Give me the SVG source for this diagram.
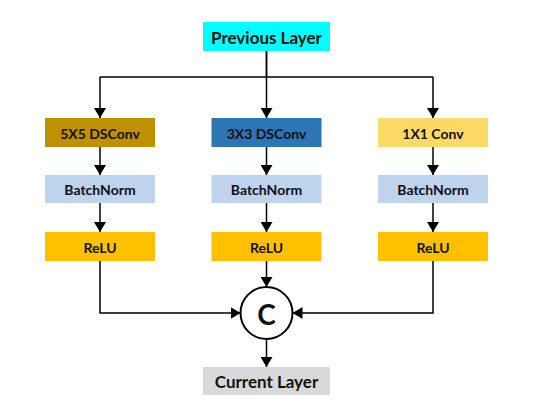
<svg xmlns="http://www.w3.org/2000/svg" width="552" height="409" viewBox="0 0 552 409">
<defs>
<marker id="ah" viewBox="0 0 10 12" refX="10" refY="6" markerWidth="10" markerHeight="12" markerUnits="userSpaceOnUse" orient="auto">
<path d="M0,0 L10,6 L0,12 Z" fill="#000"/>
</marker>
</defs>
<style>
.lbl{font-family:Lato,"Open Sans","Liberation Sans",sans-serif;font-weight:bold;fill:#111;text-anchor:middle;dominant-baseline:central}
.s{font-size:14px}
.b{font-size:17px}
.ln{fill:none;stroke:#000;stroke-width:1.5}
.ar{fill:none;stroke:#000;stroke-width:1.5;marker-end:url(#ah)}
</style>
<rect width="552" height="409" fill="#fff"/>
<g id="connectors">
<path class="ln" d="M266.5,51 V77 M100,77 H433"/>
<path class="ar" d="M100,77 V118"/>
<path class="ar" d="M266.5,51 V118"/>
<path class="ar" d="M433,77 V118"/>
<path class="ar" d="M100,147 V175"/>
<path class="ar" d="M266.5,147 V175"/>
<path class="ar" d="M433,147 V175"/>
<path class="ar" d="M100,203 V232"/>
<path class="ar" d="M266.5,203 V232"/>
<path class="ar" d="M433,203 V232"/>
<path class="ar" d="M100,261 V313 H240.5"/>
<path class="ar" d="M266.5,261 V287"/>
<path class="ar" d="M433,261 V313 H292.5"/>
<path class="ar" d="M266.5,339 V367"/>
</g>
<g id="prev"><rect x="203" y="22" width="127" height="29" fill="#00FFFF"/><text class="lbl b" x="266.5" y="37">Previous Layer</text></g>
<g id="conv5"><rect x="45" y="118" width="110" height="29" fill="#BF9000"/><text class="lbl s" x="100" y="133">5X5 DSConv</text></g>
<g id="conv3"><rect x="211.5" y="118" width="110" height="29" fill="#2E75B6"/><text class="lbl s" x="266.5" y="133">3X3 DSConv</text></g>
<g id="conv1"><rect x="378" y="118" width="110" height="29" fill="#FFD966"/><text class="lbl s" x="433" y="133">1X1 Conv</text></g>
<g id="bn1"><rect x="45" y="175" width="110" height="28" fill="#BDD3EE"/><text class="lbl s" x="100" y="189.5">BatchNorm</text></g>
<g id="bn2"><rect x="211.5" y="175" width="110" height="28" fill="#BDD3EE"/><text class="lbl s" x="266.5" y="189.5">BatchNorm</text></g>
<g id="bn3"><rect x="378" y="175" width="110" height="28" fill="#BDD3EE"/><text class="lbl s" x="433" y="189.5">BatchNorm</text></g>
<g id="relu1"><rect x="45" y="232" width="110" height="29" fill="#FFC000"/><text class="lbl s" x="100" y="247">ReLU</text></g>
<g id="relu2"><rect x="211.5" y="232" width="110" height="29" fill="#FFC000"/><text class="lbl s" x="266.5" y="247">ReLU</text></g>
<g id="relu3"><rect x="378" y="232" width="110" height="29" fill="#FFC000"/><text class="lbl s" x="433" y="247">ReLU</text></g>
<g id="concat"><circle cx="266.5" cy="313" r="26" fill="#fff" stroke="#000" stroke-width="2"/><text class="lbl" style="font-size:28px" x="266.5" y="314">C</text></g>
<g id="curr"><rect x="203" y="367" width="127" height="28" fill="#D9D9D9"/><text class="lbl b" x="266.5" y="381.5">Current Layer</text></g>
</svg>
